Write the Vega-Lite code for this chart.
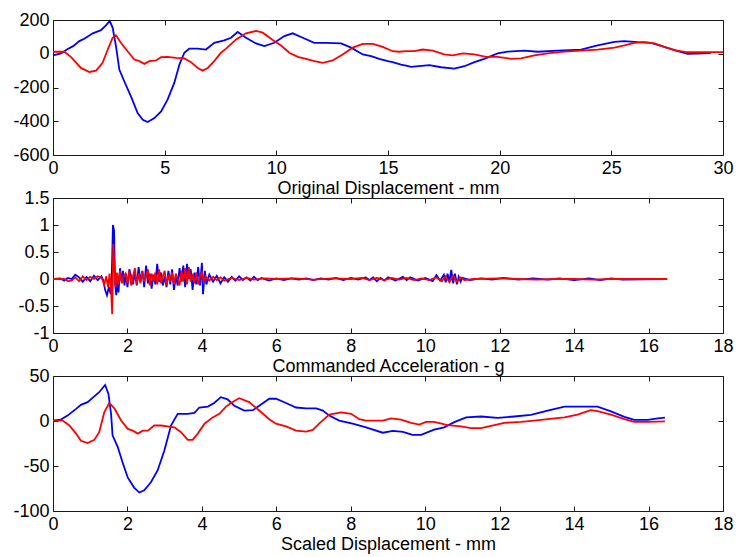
{
  "$schema": "https://vega.github.io/schema/vega-lite/v6.json",
  "background": "white",
  "padding": {"left": 12, "top": 10, "right": 0, "bottom": 0},
  "config": {
    "view": {"stroke": "#1a1a1a", "strokeWidth": 1},
    "axis": {
      "labelFont": "Liberation Sans", "titleFont": "Liberation Sans",
      "labelFontSize": 18, "titleFontSize": 18, "titleFontWeight": "normal",
      "labelColor": "#000", "titleColor": "#000", "tickColor": "#1a1a1a",
      "domain": false, "grid": false, "tickSize": -5, "labelPadding": 9,
      "titlePadding": 2, "labelFlush": false, "labelOverlap": false, "labelBound": false,
      "labelExpr": "'' + datum.value"
    }
  },
  "datasets": {
    "p1b": [
      {"t":0,"v":-10},{"t":0.36,"v":2},{"t":0.66,"v":28},{"t":0.9,"v":45},{"t":1.18,"v":75},{"t":1.4,"v":89},{"t":1.78,"v":121},{"t":2.15,"v":140},{"t":2.37,"v":168},{"t":2.54,"v":194},{"t":2.67,"v":155},{"t":2.82,"v":45},{"t":2.97,"v":-94},{"t":3.19,"v":-163},{"t":3.49,"v":-253},{"t":3.79,"v":-352},{"t":4.02,"v":-391},{"t":4.24,"v":-405},{"t":4.54,"v":-381},{"t":4.84,"v":-342},{"t":5.13,"v":-272},{"t":5.43,"v":-173},{"t":5.66,"v":-64},{"t":5.88,"v":6},{"t":6.1,"v":30},{"t":6.48,"v":30},{"t":6.85,"v":25},{"t":7.22,"v":65},{"t":7.67,"v":79},{"t":7.97,"v":95},{"t":8.27,"v":129},{"t":8.64,"v":95},{"t":9.09,"v":61},{"t":9.46,"v":45},{"t":9.91,"v":65},{"t":10.36,"v":105},{"t":10.73,"v":121},{"t":11.18,"v":95},{"t":11.7,"v":65},{"t":12.22,"v":65},{"t":12.9,"v":61},{"t":13.35,"v":36},{"t":13.87,"v":-4},{"t":14.24,"v":-14},{"t":14.61,"v":-30},{"t":14.99,"v":-44},{"t":15.21,"v":-50},{"t":15.58,"v":-64},{"t":15.81,"v":-70},{"t":16.03,"v":-78},{"t":16.85,"v":-68},{"t":17.38,"v":-80},{"t":17.97,"v":-88},{"t":18.42,"v":-74},{"t":18.87,"v":-50},{"t":19.31,"v":-30},{"t":19.91,"v":2},{"t":20.36,"v":12},{"t":21.1,"v":18},{"t":21.7,"v":12},{"t":22.6,"v":18},{"t":23.64,"v":25},{"t":24.39,"v":49},{"t":25.14,"v":71},{"t":25.58,"v":75},{"t":26.18,"v":69},{"t":26.78,"v":65},{"t":27.37,"v":41},{"t":27.97,"v":15},{"t":28.42,"v":0},{"t":29.17,"v":2},{"t":29.47,"v":6}
    ],
    "p1r": [
      {"t":0,"v":12},{"t":0.51,"v":12},{"t":0.81,"v":-20},{"t":1.25,"v":-84},{"t":1.63,"v":-108},{"t":1.93,"v":-100},{"t":2.22,"v":-54},{"t":2.45,"v":25},{"t":2.67,"v":95},{"t":2.82,"v":109},{"t":3.04,"v":65},{"t":3.34,"v":15},{"t":3.64,"v":-34},{"t":3.87,"v":-44},{"t":4.09,"v":-60},{"t":4.31,"v":-44},{"t":4.61,"v":-40},{"t":4.84,"v":-20},{"t":5.13,"v":-18},{"t":5.51,"v":-24},{"t":5.88,"v":-28},{"t":6.18,"v":-50},{"t":6.48,"v":-84},{"t":6.7,"v":-100},{"t":6.93,"v":-84},{"t":7.22,"v":-44},{"t":7.52,"v":6},{"t":7.75,"v":30},{"t":8.2,"v":85},{"t":8.64,"v":121},{"t":9.09,"v":135},{"t":9.39,"v":125},{"t":9.84,"v":81},{"t":10.21,"v":49},{"t":10.58,"v":6},{"t":10.96,"v":-18},{"t":11.33,"v":-30},{"t":11.7,"v":-44},{"t":12.08,"v":-54},{"t":12.52,"v":-40},{"t":12.97,"v":-4},{"t":13.42,"v":36},{"t":13.87,"v":59},{"t":14.32,"v":59},{"t":14.76,"v":41},{"t":15.21,"v":15},{"t":15.51,"v":12},{"t":15.81,"v":15},{"t":16.18,"v":15},{"t":16.56,"v":25},{"t":17.0,"v":18},{"t":17.52,"v":-4},{"t":17.9,"v":-10},{"t":18.35,"v":2},{"t":18.87,"v":-4},{"t":19.39,"v":-18},{"t":19.91,"v":-18},{"t":20.51,"v":-30},{"t":20.96,"v":-28},{"t":21.55,"v":-10},{"t":22.15,"v":2},{"t":22.9,"v":12},{"t":23.64,"v":18},{"t":24.39,"v":25},{"t":25.14,"v":36},{"t":25.58,"v":49},{"t":26.03,"v":65},{"t":26.48,"v":69},{"t":26.93,"v":61},{"t":27.37,"v":41},{"t":27.82,"v":21},{"t":28.35,"v":10},{"t":29.17,"v":10},{"t":30,"v":10}
    ],
    "p2b": [
      {"t":0,"v":0},{"t":0.2,"v":0.01},{"t":0.3,"v":-0.03},{"t":0.4,"v":0.02},{"t":0.5,"v":0},{"t":0.6,"v":0.08},{"t":0.7,"v":0.03},{"t":0.8,"v":-0.05},{"t":0.9,"v":0.04},{"t":1.0,"v":-0.04},{"t":1.1,"v":0.06},{"t":1.2,"v":-0.02},{"t":1.3,"v":0.05},{"t":1.35,"v":-0.02},{"t":1.4,"v":-0.2},{"t":1.45,"v":-0.3},{"t":1.5,"v":-0.15},{"t":1.55,"v":-0.28},{"t":1.58,"v":0.1},{"t":1.61,"v":1.0},{"t":1.64,"v":0.9},{"t":1.67,"v":-0.1},{"t":1.7,"v":-0.3},{"t":1.73,"v":0.05},{"t":1.76,"v":-0.25},{"t":1.8,"v":0.2},{"t":1.84,"v":-0.05},{"t":1.88,"v":0.15},{"t":1.92,"v":-0.12},{"t":1.96,"v":0.1},{"t":2.0,"v":-0.15},{"t":2.05,"v":0.18},{"t":2.1,"v":0.05},{"t":2.15,"v":-0.1},{"t":2.2,"v":0.12},{"t":2.25,"v":-0.12},{"t":2.3,"v":0.22},{"t":2.35,"v":-0.05},{"t":2.4,"v":0.15},{"t":2.45,"v":-0.15},{"t":2.5,"v":0.25},{"t":2.55,"v":-0.08},{"t":2.6,"v":0.1},{"t":2.65,"v":-0.18},{"t":2.7,"v":0.08},{"t":2.75,"v":-0.1},{"t":2.8,"v":0.28},{"t":2.85,"v":-0.05},{"t":2.9,"v":0.12},{"t":2.95,"v":-0.12},{"t":3.0,"v":0.05},{"t":3.05,"v":-0.15},{"t":3.1,"v":0.15},{"t":3.15,"v":-0.1},{"t":3.2,"v":0.18},{"t":3.25,"v":-0.2},{"t":3.3,"v":0.05},{"t":3.35,"v":-0.12},{"t":3.4,"v":0.2},{"t":3.45,"v":-0.05},{"t":3.5,"v":0.25},{"t":3.55,"v":-0.15},{"t":3.6,"v":0.28},{"t":3.65,"v":0},{"t":3.7,"v":0.18},{"t":3.75,"v":-0.2},{"t":3.8,"v":0.12},{"t":3.85,"v":-0.1},{"t":3.9,"v":0.22},{"t":3.95,"v":-0.12},{"t":4.0,"v":0.3},{"t":4.03,"v":-0.28},{"t":4.08,"v":0.15},{"t":4.12,"v":-0.1},{"t":4.2,"v":0.08},{"t":4.3,"v":-0.05},{"t":4.4,"v":0.06},{"t":4.5,"v":-0.08},{"t":4.6,"v":0.03},{"t":4.7,"v":-0.05},{"t":4.8,"v":0.04},{"t":4.9,"v":-0.03},{"t":5.0,"v":0.05},{"t":5.1,"v":-0.02},{"t":5.2,"v":0.03},{"t":5.3,"v":-0.03},{"t":5.4,"v":0.04},{"t":5.5,"v":-0.02},{"t":5.6,"v":0.02},{"t":5.8,"v":-0.03},{"t":6.0,"v":0.01},{"t":6.2,"v":-0.02},{"t":6.4,"v":0.01},{"t":6.6,"v":-0.01},{"t":6.8,"v":0.01},{"t":7.0,"v":-0.02},{"t":7.2,"v":0.01},{"t":7.4,"v":-0.01},{"t":7.6,"v":0.02},{"t":7.8,"v":-0.02},{"t":8.0,"v":0.02},{"t":8.2,"v":-0.01},{"t":8.4,"v":0.03},{"t":8.5,"v":-0.02},{"t":8.6,"v":0.03},{"t":8.7,"v":-0.04},{"t":8.8,"v":0.02},{"t":8.9,"v":-0.03},{"t":9.0,"v":0.03},{"t":9.2,"v":-0.03},{"t":9.4,"v":0.04},{"t":9.5,"v":-0.02},{"t":9.6,"v":0.03},{"t":9.8,"v":-0.03},{"t":10.0,"v":0.02},{"t":10.2,"v":-0.04},{"t":10.3,"v":0.07},{"t":10.4,"v":-0.03},{"t":10.5,"v":0.08},{"t":10.55,"v":-0.06},{"t":10.6,"v":0.1},{"t":10.65,"v":-0.05},{"t":10.7,"v":0.17},{"t":10.75,"v":-0.08},{"t":10.8,"v":0.1},{"t":10.85,"v":-0.1},{"t":10.9,"v":0.04},{"t":10.95,"v":-0.05},{"t":11.0,"v":0.02},{"t":11.2,"v":-0.02},{"t":11.5,"v":0.01},{"t":11.8,"v":-0.01},{"t":12.1,"v":0.02},{"t":12.5,"v":-0.01},{"t":12.9,"v":0.01},{"t":13.3,"v":-0.01},{"t":13.6,"v":0.01},{"t":14.0,"v":-0.02},{"t":14.4,"v":0.01},{"t":14.7,"v":-0.02},{"t":15.0,"v":0.01},{"t":15.3,"v":-0.01},{"t":16.5,"v":0}
    ],
    "p2r": [
      {"t":0,"v":0},{"t":0.3,"v":0},{"t":0.4,"v":-0.04},{"t":0.5,"v":-0.03},{"t":0.6,"v":0.03},{"t":0.7,"v":-0.04},{"t":0.8,"v":0.05},{"t":0.9,"v":-0.02},{"t":1.0,"v":0.04},{"t":1.1,"v":0},{"t":1.2,"v":0.05},{"t":1.3,"v":0.03},{"t":1.38,"v":-0.1},{"t":1.43,"v":0.05},{"t":1.48,"v":-0.15},{"t":1.52,"v":0.1},{"t":1.56,"v":-0.2},{"t":1.59,"v":-0.65},{"t":1.62,"v":0.65},{"t":1.65,"v":0.2},{"t":1.68,"v":-0.15},{"t":1.72,"v":0.12},{"t":1.76,"v":-0.1},{"t":1.8,"v":0.15},{"t":1.85,"v":-0.08},{"t":1.9,"v":0.05},{"t":1.95,"v":0.1},{"t":2.0,"v":-0.08},{"t":2.05,"v":0.15},{"t":2.1,"v":-0.12},{"t":2.15,"v":0.05},{"t":2.2,"v":0.2},{"t":2.25,"v":-0.1},{"t":2.3,"v":0.1},{"t":2.35,"v":-0.08},{"t":2.4,"v":0.15},{"t":2.45,"v":-0.05},{"t":2.5,"v":0.05},{"t":2.55,"v":0.18},{"t":2.6,"v":-0.12},{"t":2.65,"v":0.1},{"t":2.7,"v":-0.05},{"t":2.75,"v":0.12},{"t":2.8,"v":-0.1},{"t":2.85,"v":0.18},{"t":2.9,"v":-0.08},{"t":2.95,"v":0.05},{"t":3.0,"v":0.15},{"t":3.05,"v":-0.12},{"t":3.1,"v":0.08},{"t":3.15,"v":-0.05},{"t":3.2,"v":0.12},{"t":3.25,"v":-0.1},{"t":3.3,"v":0.1},{"t":3.35,"v":0},{"t":3.4,"v":-0.12},{"t":3.45,"v":0.15},{"t":3.5,"v":-0.05},{"t":3.55,"v":0.2},{"t":3.6,"v":-0.1},{"t":3.65,"v":0.22},{"t":3.7,"v":-0.05},{"t":3.75,"v":0.1},{"t":3.8,"v":-0.08},{"t":3.85,"v":0.12},{"t":3.9,"v":-0.1},{"t":3.95,"v":0.05},{"t":4.0,"v":0.12},{"t":4.05,"v":-0.05},{"t":4.1,"v":0.05},{"t":4.2,"v":-0.03},{"t":4.3,"v":0.04},{"t":4.4,"v":-0.02},{"t":4.5,"v":0.03},{"t":4.6,"v":-0.03},{"t":4.8,"v":0.02},{"t":5.0,"v":-0.02},{"t":5.2,"v":0.02},{"t":5.4,"v":-0.01},{"t":5.7,"v":0.01},{"t":6.0,"v":0},{"t":6.5,"v":0.01},{"t":7.0,"v":-0.01},{"t":7.5,"v":0.01},{"t":8.0,"v":0},{"t":8.3,"v":0.02},{"t":8.5,"v":-0.02},{"t":8.7,"v":0.02},{"t":8.9,"v":-0.02},{"t":9.1,"v":0.02},{"t":9.3,"v":-0.01},{"t":9.5,"v":0.02},{"t":9.7,"v":-0.02},{"t":9.9,"v":0.01},{"t":10.1,"v":-0.02},{"t":10.3,"v":0.03},{"t":10.45,"v":-0.04},{"t":10.55,"v":0.05},{"t":10.65,"v":-0.06},{"t":10.75,"v":0.06},{"t":10.85,"v":-0.05},{"t":10.95,"v":0.03},{"t":11.05,"v":-0.02},{"t":11.3,"v":0},{"t":12.0,"v":0.01},{"t":12.5,"v":0},{"t":13.0,"v":-0.01},{"t":13.5,"v":0},{"t":14.0,"v":0},{"t":14.5,"v":-0.01},{"t":15.0,"v":0},{"t":15.5,"v":0},{"t":16.5,"v":0}
    ],
    "p3b": [
      {"t":0,"v":0.5},{"t":0.21,"v":1.6},{"t":0.39,"v":6},{"t":0.62,"v":13.5},{"t":0.75,"v":18},{"t":0.93,"v":21},{"t":1.07,"v":26},{"t":1.24,"v":32},{"t":1.4,"v":40},{"t":1.49,"v":30},{"t":1.56,"v":8},{"t":1.6,"v":-16},{"t":1.74,"v":-29},{"t":1.87,"v":-46},{"t":2.01,"v":-63},{"t":2.18,"v":-74},{"t":2.32,"v":-79.5},{"t":2.45,"v":-77},{"t":2.63,"v":-68},{"t":2.81,"v":-55},{"t":2.99,"v":-33},{"t":3.17,"v":-5},{"t":3.35,"v":8},{"t":3.62,"v":8},{"t":3.8,"v":9},{"t":3.93,"v":15},{"t":4.16,"v":16},{"t":4.33,"v":20},{"t":4.51,"v":26.5},{"t":4.69,"v":24},{"t":4.87,"v":17},{"t":5.14,"v":11.6},{"t":5.37,"v":12},{"t":5.54,"v":17},{"t":5.81,"v":24.7},{"t":5.99,"v":24.7},{"t":6.26,"v":20},{"t":6.53,"v":15},{"t":6.8,"v":14},{"t":7.07,"v":14},{"t":7.25,"v":11.6},{"t":7.42,"v":6},{"t":7.69,"v":0.5},{"t":8.05,"v":-3},{"t":8.41,"v":-7},{"t":8.86,"v":-13},{"t":9.13,"v":-11},{"t":9.4,"v":-12},{"t":9.66,"v":-15.5},{"t":9.89,"v":-15.5},{"t":10.24,"v":-9.6},{"t":10.51,"v":-7},{"t":10.78,"v":-1.3},{"t":11.1,"v":4},{"t":11.5,"v":5},{"t":11.95,"v":3.5},{"t":12.39,"v":5},{"t":12.84,"v":6.8},{"t":13.29,"v":11.6},{"t":13.74,"v":16},{"t":14.19,"v":16},{"t":14.63,"v":16},{"t":14.99,"v":10.6},{"t":15.35,"v":4.6},{"t":15.62,"v":1.2},{"t":15.98,"v":1.2},{"t":16.25,"v":3},{"t":16.44,"v":3.7}
    ],
    "p3r": [
      {"t":0,"v":0.5},{"t":0.26,"v":0.5},{"t":0.44,"v":-5},{"t":0.62,"v":-14},{"t":0.75,"v":-22},{"t":0.93,"v":-24.5},{"t":1.11,"v":-21},{"t":1.24,"v":-12.5},{"t":1.38,"v":10},{"t":1.51,"v":20},{"t":1.65,"v":14},{"t":1.83,"v":0.5},{"t":2.01,"v":-8.8},{"t":2.14,"v":-10.7},{"t":2.28,"v":-14},{"t":2.41,"v":-10.7},{"t":2.55,"v":-10.7},{"t":2.72,"v":-5},{"t":2.9,"v":-5},{"t":3.08,"v":-6},{"t":3.26,"v":-7},{"t":3.44,"v":-12.5},{"t":3.62,"v":-21},{"t":3.75,"v":-21},{"t":3.89,"v":-14},{"t":4.07,"v":-3},{"t":4.29,"v":4},{"t":4.47,"v":8},{"t":4.65,"v":16},{"t":4.78,"v":20},{"t":5.0,"v":25.4},{"t":5.27,"v":21},{"t":5.54,"v":11.6},{"t":5.81,"v":2},{"t":5.99,"v":-3},{"t":6.26,"v":-6},{"t":6.53,"v":-10.7},{"t":6.8,"v":-11.7},{"t":6.98,"v":-10},{"t":7.15,"v":-3},{"t":7.42,"v":7},{"t":7.74,"v":9.5},{"t":8.01,"v":8},{"t":8.23,"v":2},{"t":8.41,"v":0.5},{"t":8.86,"v":0.5},{"t":9.08,"v":3},{"t":9.35,"v":1.5},{"t":9.62,"v":-2},{"t":9.84,"v":-4},{"t":10.02,"v":-1},{"t":10.24,"v":-1},{"t":10.6,"v":-4.6},{"t":10.96,"v":-6},{"t":11.23,"v":-8},{"t":11.5,"v":-8},{"t":11.86,"v":-4.6},{"t":12.12,"v":-2},{"t":12.57,"v":-1},{"t":12.93,"v":0.5},{"t":13.29,"v":2},{"t":13.74,"v":4},{"t":14.09,"v":7},{"t":14.45,"v":12},{"t":14.63,"v":11},{"t":14.99,"v":7},{"t":15.35,"v":2},{"t":15.62,"v":-1},{"t":15.98,"v":-1},{"t":16.44,"v":-0.5}
    ]
  },
  "vconcat": [
    {
      "width": 670, "height": 135,
      "layer": [
        {"data": {"name": "p1b"}, "mark": {"type": "line", "color": "#0000ff", "strokeWidth": 1.8},
         "encoding": {
           "x": {"field": "t", "type": "quantitative", "scale": {"domain": [0, 30], "nice": false, "zero": false},
                 "axis": {"orient": "bottom", "values": [0, 5, 10, 15, 20, 25, 30], "title": "Original Displacement - mm"}},
           "y": {"field": "v", "type": "quantitative", "scale": {"domain": [-600, 200], "nice": false, "zero": false},
                 "axis": {"orient": "left", "values": [-600, -400, -200, 0, 200], "title": null}}}},
        {"data": {"name": "p1r"}, "mark": {"type": "line", "color": "#ff0000", "strokeWidth": 1.8},
         "encoding": {
           "x": {"field": "t", "type": "quantitative", "axis": {"orient": "top", "values": [0, 5, 10, 15, 20, 25, 30], "labels": false, "title": null}},
           "y": {"field": "v", "type": "quantitative", "axis": {"orient": "right", "values": [-600, -400, -200, 0, 200], "labels": false, "title": null}}}}
      ],
      "resolve": {"axis": {"x": "independent", "y": "independent"}}
    },
    {
      "width": 670, "height": 135,
      "layer": [
        {"data": {"name": "p2b"}, "mark": {"type": "line", "color": "#0000ff", "strokeWidth": 1.8},
         "encoding": {
           "x": {"field": "t", "type": "quantitative", "scale": {"domain": [0, 18], "nice": false, "zero": false},
                 "axis": {"orient": "bottom", "values": [0, 2, 4, 6, 8, 10, 12, 14, 16, 18], "title": "Commanded Acceleration - g"}},
           "y": {"field": "v", "type": "quantitative", "scale": {"domain": [-1, 1.5], "nice": false, "zero": false},
                 "axis": {"orient": "left", "values": [-1, -0.5, 0, 0.5, 1, 1.5], "title": null}}}},
        {"data": {"name": "p2r"}, "mark": {"type": "line", "color": "#ff0000", "strokeWidth": 1.8},
         "encoding": {
           "x": {"field": "t", "type": "quantitative", "axis": {"orient": "top", "values": [0, 2, 4, 6, 8, 10, 12, 14, 16, 18], "labels": false, "title": null}},
           "y": {"field": "v", "type": "quantitative", "axis": {"orient": "right", "values": [-1, -0.5, 0, 0.5, 1, 1.5], "labels": false, "title": null}}}}
      ],
      "resolve": {"axis": {"x": "independent", "y": "independent"}}
    },
    {
      "width": 670, "height": 135,
      "layer": [
        {"data": {"name": "p3b"}, "mark": {"type": "line", "color": "#0000ff", "strokeWidth": 1.8},
         "encoding": {
           "x": {"field": "t", "type": "quantitative", "scale": {"domain": [0, 18], "nice": false, "zero": false},
                 "axis": {"orient": "bottom", "values": [0, 2, 4, 6, 8, 10, 12, 14, 16, 18], "title": "Scaled Displacement - mm"}},
           "y": {"field": "v", "type": "quantitative", "scale": {"domain": [-100, 50], "nice": false, "zero": false},
                 "axis": {"orient": "left", "values": [-100, -50, 0, 50], "title": null}}}},
        {"data": {"name": "p3r"}, "mark": {"type": "line", "color": "#ff0000", "strokeWidth": 1.8},
         "encoding": {
           "x": {"field": "t", "type": "quantitative", "axis": {"orient": "top", "values": [0, 2, 4, 6, 8, 10, 12, 14, 16, 18], "labels": false, "title": null}},
           "y": {"field": "v", "type": "quantitative", "axis": {"orient": "right", "values": [-100, -50, 0, 50], "labels": false, "title": null}}}}
      ],
      "resolve": {"axis": {"x": "independent", "y": "independent"}}
    }
  ],
  "bounds": "flush",
  "spacing": 43
}
